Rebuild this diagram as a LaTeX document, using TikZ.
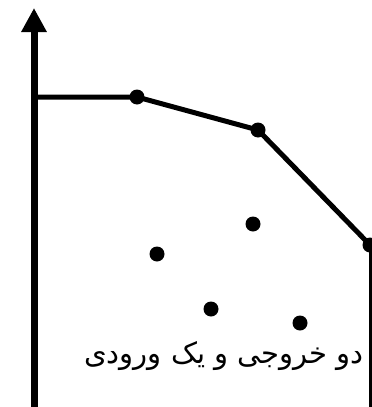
\documentclass[tikz,border=0pt]{standalone}
\usepackage{fontspec}
\usepackage{tikz}
\usetikzlibrary{arrows.meta}
\newfontfamily\arabicfont[Script=Arabic]{DejaVu Sans}
\TeXXeTstate=1

\begin{document}
\begin{tikzpicture}[
                x=1pt, y=-1pt,
                dot/.style={circle, fill, inner sep=0pt, minimum size=15pt},
                frontier/.style={line width=5pt, line join=round},
                >={Triangle[width=24pt, length=24pt]}
            ]
            \useasboundingbox (0,0) rectangle (372,407);
            % axis
            \coordinate (O) at (34,407);
            \coordinate (T) at (34,8);
            \draw[->, line width=7pt] (O) -- (T);
            % frontier
            \coordinate (Y) at (34,97);
            \node[dot] (A) at (137,97) {};
            \node[dot] (B) at (258,130) {};
            \node[dot] (C) at (370,245) {};
            \coordinate (D) at (370,407);
            \draw[frontier] (Y) -- (A.center) -- (B.center) -- (C.center);
            \draw[line width=3pt] (C.center) -- (D);
            % units inside
            \node[dot] (P1) at (157,254) {};
            \node[dot] (P2) at (253,224) {};
            \node[dot] (P3) at (211,309) {};
            \node[dot] (P4) at (300,323) {};
            \node[fill=white, inner sep=1pt] (L) at (224,356)
                {\fontsize{29}{34}\arabicfont\beginR دو خروجی و یک ورودی\endR};
        \end{tikzpicture}
\end{document}
